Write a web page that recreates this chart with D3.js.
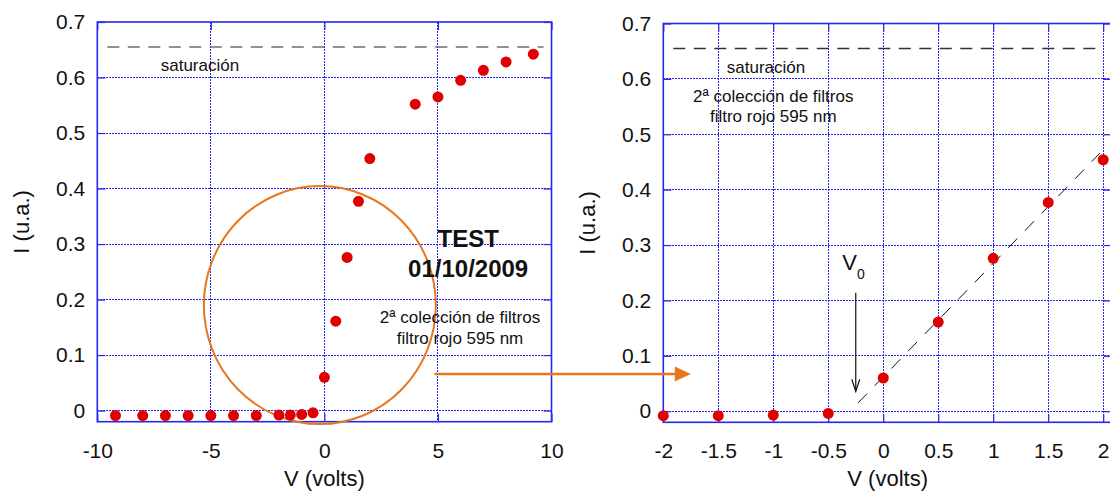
<!DOCTYPE html>
<html>
<head>
<meta charset="utf-8">
<script src="https://cdn.jsdelivr.net/npm/d3@7"></script>
<style>
  body { margin: 0; background: #fff; }
  svg { display: block; font-family: "Liberation Sans", Arial, sans-serif; }
</style>
</head>
<body>
<svg width="1110" height="495"></svg>
<script>
// measured photocurrent vs voltage
const volts = [-9.2, -8, -7, -6, -5, -4, -3, -2, -1.5, -1, -0.5, 0, 0.5, 1, 1.5, 2, 4, 5, 6, 7, 8, 9.2];
const current = [-0.009, -0.009, -0.009, -0.009, -0.009, -0.009, -0.009, -0.008, -0.008, -0.007, -0.004,
                 0.06, 0.161, 0.276, 0.377, 0.454, 0.552, 0.565, 0.595, 0.613, 0.628, 0.642];

const leftXTicks = [-10, -5, 0, 5, 10];
const rightXTicks = [-2, -1.5, -1, -0.5, 0, 0.5, 1, 1.5, 2];
const yTicks = [0, 0.1, 0.2, 0.3, 0.4, 0.5, 0.6, 0.7];

const saturation = 0.655;
const fitIntercept = 0.062, fitSlope = 0.205;   // linear fit near V0
const fitRange = [-0.23, 1.97];

const points = volts.map((v, i) => ({ v: v, i: current[i] }));

const GRID = "#2727f0";
const ORANGE = "#e8761c";
const RED = "#e00000";

var svg = d3.select("svg");

// snap to pixel centre so 1px lines stay sharp
const px = v => Math.round(v - 0.5) + 0.5;

function panel(opts) {
  var x = d3.scaleLinear().domain(opts.xDomain).range(opts.xRange);
  var y = d3.scaleLinear().domain([-0.02, 0.7]).range(opts.yRange);
  var g = svg.append("g");
  var x0 = opts.xRange[0], x1 = opts.xRange[1], y0 = opts.yRange[0], y1 = opts.yRange[1];

  // dotted grid
  g.append("g").selectAll("line")
    .data(opts.xGrid)
    .enter().append("line")
      .attr("x1", d => px(x(d))).attr("x2", d => px(x(d)))
      .attr("y1", y1).attr("y2", y0)
      .attr("stroke", GRID).attr("stroke-width", 1)
      .attr("shape-rendering", "crispEdges")
      .attr("stroke-dasharray", "2,1");
  g.append("g").selectAll("line")
    .data(yTicks.slice(0, -1))
    .enter().append("line")
      .attr("x1", x0).attr("x2", x1)
      .attr("y1", d => px(y(d))).attr("y2", d => px(y(d)))
      .attr("stroke", GRID).attr("stroke-width", 1)
      .attr("shape-rendering", "crispEdges")
      .attr("stroke-dasharray", "2,1");

  // axes with inward ticks
  var fmt = d => String(d);
  g.append("g").attr("transform", "translate(0," + y0 + ")")
    .call(d3.axisBottom(x).tickValues(opts.xTicks).tickSize(-8).tickPadding(21).tickFormat(fmt));
  g.append("g").attr("transform", "translate(" + x0 + ",0)")
    .call(d3.axisLeft(y).tickValues(yTicks).tickSize(-8).tickPadding(12).tickFormat(fmt));
  g.append("g").attr("transform", "translate(0," + y1 + ")")
    .call(d3.axisTop(x).tickValues(opts.xTicks).tickSize(-8).tickFormat(""));
  g.append("g").attr("transform", "translate(" + x1 + ",0)")
    .call(d3.axisRight(y).tickValues(yTicks).tickSize(-8).tickFormat(""));
  g.selectAll(".domain").remove();
  g.selectAll(".tick line").attr("stroke", GRID).attr("stroke-width", 1.2);
  g.selectAll(".tick text").attr("font-size", 21).attr("fill", "#111")
    .attr("font-family", "'Liberation Sans', Arial, sans-serif");

  // frame
  g.append("rect")
    .attr("x", x0).attr("y", y1)
    .attr("width", x1 - x0).attr("height", y0 - y1)
    .attr("fill", "none").attr("stroke", GRID).attr("stroke-width", 1.6);

  // saturation level
  g.append("line")
    .attr("x1", x0 + 10).attr("x2", x1 - 8)
    .attr("y1", y(saturation)).attr("y2", y(saturation))
    .attr("stroke", opts.satColor).attr("stroke-width", 1.4)
    .attr("stroke-dasharray", "12,8.5");

  // axis titles
  g.append("text")
    .attr("x", (x0 + Math.min(x1, 1110)) / 2 + opts.titleShift).attr("y", 486)
    .attr("text-anchor", "middle").attr("font-size", 22).attr("fill", "#111")
    .text("V (volts)");
  g.append("text")
    .attr("transform", "translate(" + (x0 - 68) + "," + ((y0 + y1) / 2) + ") rotate(-90)")
    .attr("text-anchor", "middle").attr("font-size", 22).attr("fill", "#111")
    .text("I (u.a.)");

  return { g: g, x: x, y: y };
}

var L = panel({
  xDomain: [-10, 10], xRange: [97.3, 551.5], yRange: [421.7, 22],
  xTicks: leftXTicks, xGrid: [-5, 0, 5], satColor: "#6e6e6e", titleShift: 0
});

var R = panel({
  xDomain: [-2, 2.08], xRange: [663.3, 1112], yRange: [422.3, 23.5],
  xTicks: rightXTicks, xGrid: [-1.5, -1, -0.5, 0, 0.5, 1, 1.5, 2], satColor: "#333", titleShift: 1
});

// left panel annotations
L.g.append("text").attr("x", L.x(-5.48)).attr("y", L.y(0.612))
  .attr("text-anchor", "middle").attr("font-size", 17).attr("fill", "#111").text("saturación");
L.g.append("ellipse")
  .attr("cx", L.x(-0.2)).attr("cy", L.y(0.19)).attr("rx", 116).attr("ry", 119)
  .attr("fill", "none").attr("stroke", ORANGE).attr("stroke-width", 2);
L.g.append("text").attr("x", L.x(6.33)).attr("y", L.y(0.295))
  .attr("text-anchor", "middle").attr("font-size", 24).attr("font-weight", "bold").attr("fill", "#111").text("TEST");
L.g.append("text").attr("x", L.x(6.33)).attr("y", L.y(0.241))
  .attr("text-anchor", "middle").attr("font-size", 24).attr("font-weight", "bold").attr("fill", "#111").text("01/10/2009");
L.g.append("text").attr("x", L.x(5.97)).attr("y", L.y(0.158))
  .attr("text-anchor", "middle").attr("font-size", 17).attr("fill", "#111").text("2ª colección de filtros");
L.g.append("text").attr("x", L.x(5.97)).attr("y", L.y(0.12))
  .attr("text-anchor", "middle").attr("font-size", 17).attr("fill", "#111").text("filtro rojo 595 nm");

// right panel annotations
R.g.append("text").attr("x", R.x(-1.066)).attr("y", R.y(0.611))
  .attr("text-anchor", "middle").attr("font-size", 17).attr("fill", "#111").text("saturación");
R.g.append("text").attr("x", R.x(-1.0)).attr("y", R.y(0.559))
  .attr("text-anchor", "middle").attr("font-size", 17).attr("fill", "#111").text("2ª colección de filtros");
R.g.append("text").attr("x", R.x(-1.0)).attr("y", R.y(0.523))
  .attr("text-anchor", "middle").attr("font-size", 17).attr("fill", "#111").text("filtro rojo 595 nm");

// fit line
R.g.append("line")
  .attr("x1", R.x(fitRange[0])).attr("y1", R.y(fitIntercept + fitSlope * fitRange[0]))
  .attr("x2", R.x(fitRange[1])).attr("y2", R.y(fitIntercept + fitSlope * fitRange[1]))
  .attr("stroke", "#111").attr("stroke-width", 1).attr("stroke-dasharray", "13,11");

// V0 marker
var v0 = R.g.append("text").attr("x", R.x(-0.27)).attr("y", R.y(0.255))
  .attr("text-anchor", "middle").attr("font-size", 22).attr("fill", "#111");
v0.append("tspan").text("V");
v0.append("tspan").attr("font-size", 14).attr("dy", 9).text("0");
var ax = R.x(-0.25), ayTop = R.y(0.214), ayTip = R.y(0.036);
R.g.append("line").attr("x1", ax).attr("x2", ax).attr("y1", ayTop).attr("y2", ayTip)
  .attr("stroke", "#111").attr("stroke-width", 1.2);
R.g.append("path")
  .attr("d", "M" + (ax - 4) + "," + (ayTip - 12) + "L" + ax + "," + ayTip + "L" + (ax + 4) + "," + (ayTip - 12))
  .attr("fill", "none").attr("stroke", "#111").attr("stroke-width", 1.2);

// orange connector arrow between panels
var arrowY = L.y(0.066), tipX = R.x(-1.75);
svg.append("line")
  .attr("x1", L.x(4.85)).attr("x2", tipX - 14)
  .attr("y1", arrowY).attr("y2", arrowY)
  .attr("stroke", ORANGE).attr("stroke-width", 2.5);
svg.append("path")
  .attr("d", "M" + (tipX - 16) + "," + (arrowY - 7.5) + "L" + tipX + "," + arrowY + "L" + (tipX - 16) + "," + (arrowY + 7.5) + "Z")
  .attr("fill", ORANGE);

// data points
L.g.append("g").selectAll("circle")
  .data(points)
  .enter().append("circle")
    .attr("cx", d => L.x(d.v)).attr("cy", d => L.y(d.i))
    .attr("r", 5.5).attr("fill", RED);

R.g.append("g").selectAll("circle")
  .data(points.filter(d => d.v >= -2 && d.v <= 2))
  .enter().append("circle")
    .attr("cx", d => R.x(d.v)).attr("cy", d => R.y(d.i))
    .attr("r", 5.5).attr("fill", RED);
</script>
</body>
</html>
